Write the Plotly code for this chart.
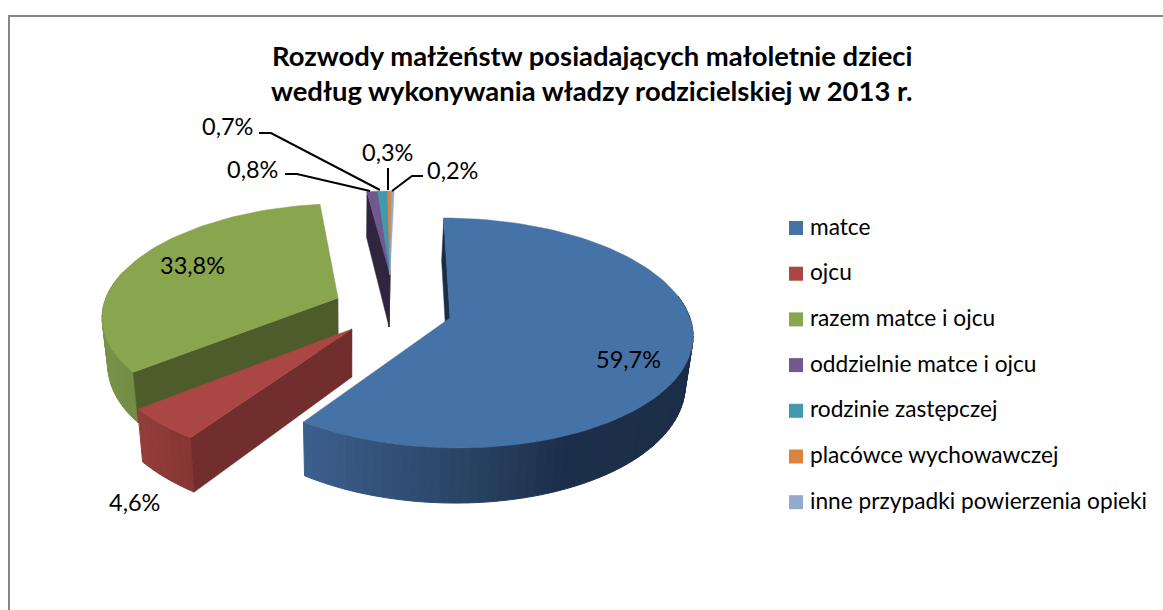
import math
import plotly.graph_objects as go

categories = ["matce", "ojcu", "razem matce i ojcu", "oddzielnie matce i ojcu",
              "rodzinie zastępczej", "placówce wychowawczej", "inne przypadki powierzenia opieki"]
values = [59.7, 4.6, 33.8, 0.8, 0.7, 0.3, 0.2]
value_labels = ["59,7%", "4,6%", "33,8%", "0,8%", "0,7%", "0,3%", "0,2%"]
colors = ["#4572A7", "#AA4643", "#89A54E", "#71588F", "#4198AF", "#DB843D", "#93A9CF"]
wall_colors = ["#1B2E48", "#722E2C", "#4E5C2B", "#30253F", "#1F5565", "#7A4519", "#53617C"]

title_lines = ["Rozwody małżeństw posiadających małoletnie dzieci",
               "według wykonywania władzy rodzicielskiej w 2013 r."]

# projection of each exploded slice: apex, radii, shear, perspective, depth
SMALL = dict(cx=390, cy=275, a=247, s=-4.6, b=96, k=0.144, t=52)
GEOM = [dict(cx=450, cy=318, a=240, s=7, b=113, k=0.13, t=48),
        dict(cx=352, cy=329, a=250, s=0, b=116.5, k=0.144, t=48),
        dict(cx=338, cy=298, a=232, s=-8.6, b=108, k=0.144, t=46),
        SMALL, SMALL, SMALL, SMALL]
VX, BOTTOM_SCALE = 350, 0.977
SIDE_STOPS = [
    [(304, "#3C5F8D"), (460, "#2A4465"), (560, "#1C2F4A"), (700, "#1B2D45")],
    [(144, "#933D3B"), (193, "#853634")],
    [(100, "#7A9449"), (140, "#738B44")],
    None, None, None, None,
]
DRAW_ORDER = [2, 1, 0]
LABEL_POS = [(628, 359), (134, 502), (192, 265), (252, 169), (227, 126), (387, 152), (452, 170)]
LEADERS = {3: [(285, 174), (297, 174), (370, 191)],
           4: [(259, 133), (271, 133), (380, 190)],
           5: [(388, 168), (388, 190)],
           6: [(392, 191), (412, 176), (423, 176)]}
LEG_X, LEG_TEXT_X, LEG_Y, LEG_STEP = 796, 810, 228, 45.7
FONT = "Lato, Carlito, sans-serif"


def project(g, theta):
    X, Y = math.sin(theta), -math.cos(theta)
    p = 1 / (1 - g["k"] * Y)
    return g["cx"] + (g["a"] * X + g["s"] * Y) * p, g["cy"] + g["b"] * Y * p, p


def drop(g, x, y, p):
    return VX + (x - VX) * BOTTOM_SCALE, y + g["t"] * p


def mix(stops, x):
    if x <= stops[0][0]:
        return stops[0][1]
    for (x0, c0), (x1, c1) in zip(stops, stops[1:]):
        if x <= x1:
            f = (x - x0) / (x1 - x0)
            rgb = [round(int(c0[i:i + 2], 16) * (1 - f) + int(c1[i:i + 2], 16) * f) for i in (1, 3, 5)]
            return "#%02X%02X%02X" % tuple(rgb)
    return stops[-1][1]


fig = go.Figure()


def poly(xs, ys, color, width=1):
    fig.add_trace(go.Scatter(x=xs + xs[:1], y=ys + ys[:1], mode="lines", fill="toself",
                             fillcolor=color, line=dict(color=color, width=width),
                             hoverinfo="skip", showlegend=False))


total = sum(values)
spans, run = [], 0.0
for v in values:
    spans.append((run / total * 2 * math.pi, (run + v) / total * 2 * math.pi))
    run += v


def arc(g, t0, t1, n):
    return [t0 + (t1 - t0) * i / n for i in range(n + 1)]


def draw_wall(i):
    g = GEOM[i]
    x0, y0, p0 = project(g, spans[i][0])
    ax, ay = g["cx"], g["cy"]
    bx0, by0 = drop(g, x0, y0, p0)
    bax, bay = drop(g, ax, ay, 1)
    poly([ax, x0, bx0, bax], [ay, y0, by0, bay], wall_colors[i], 0.5)


def draw_face(i):
    g = GEOM[i]
    pts = [project(g, t)[:2] for t in arc(g, *spans[i], max(2, int((spans[i][1] - spans[i][0]) * 30)))]
    poly([g["cx"]] + [q[0] for q in pts], [g["cy"]] + [q[1] for q in pts], colors[i], 0.5)


def draw_side(i):
    g = GEOM[i]
    t0, t1 = spans[i]
    t0, t1 = max(t0, math.pi / 2 - 0.2), min(t1, 3 * math.pi / 2 + 0.25)
    ts = arc(g, t0, t1, max(4, int((t1 - t0) * 28)))
    for a, b in zip(ts, ts[1:]):
        xa, ya, pa = project(g, a)
        xb, yb, pb = project(g, b)
        xc, yc = drop(g, xb, yb, pb)
        xd, yd = drop(g, xa, ya, pa)
        poly([xa, xb, xc, xd], [ya, yb, yc, yd], mix(SIDE_STOPS[i], (xc + xd) / 2))


for i in DRAW_ORDER:
    draw_side(i)
    draw_wall(i)
    draw_face(i)

for i in (6, 5, 4, 3):
    draw_wall(i)
for i in (3, 4, 5, 6):
    draw_face(i)

# legend
leg_y = [LEG_Y + n * LEG_STEP for n in range(len(categories))]
fig.add_trace(go.Scatter(
    x=[LEG_X] * len(categories), y=leg_y, mode="markers",
    marker=dict(symbol="square", size=14, color=colors, line=dict(width=0)),
    hoverinfo="skip", showlegend=False))
fig.add_trace(go.Scatter(
    x=[LEG_TEXT_X] * len(categories), y=[v + 1 for v in leg_y],
    mode="text", text=categories, textposition="middle right",
    textfont=dict(family=FONT, size=22.7, color="#000000"),
    hoverinfo="skip", showlegend=False))

shapes = [
    dict(type="line", x0=8, x1=1163, y0=16, y1=16, line=dict(color="#868686", width=2)),
    dict(type="line", x0=9, x1=9, y0=15, y1=610, line=dict(color="#868686", width=2)),
]
for pts in LEADERS.values():
    path = "M " + " L ".join(f"{x},{y}" for x, y in pts)
    shapes.append(dict(type="path", path=path, line=dict(color="#000000", width=2)))

annotations = []
for lab, (x, y) in zip(value_labels, LABEL_POS):
    annotations.append(dict(x=x, y=y, text=lab, showarrow=False, xanchor="center", yanchor="middle",
                            font=dict(family=FONT, size=23.5, color="#000000")))
for line, y in zip(title_lines, (55, 90)):
    annotations.append(dict(x=592, y=y, text=f"<b>{line}</b>", showarrow=False, xanchor="center",
                            yanchor="middle", font=dict(family=FONT, size=27.4, color="#000000")))

fig.update_layout(
    width=1163, height=610, margin=dict(l=0, r=0, t=0, b=0),
    paper_bgcolor="white", plot_bgcolor="white", showlegend=False,
    xaxis=dict(range=[0, 1163], visible=False, fixedrange=True),
    yaxis=dict(range=[610, 0], visible=False, fixedrange=True),
    shapes=shapes, annotations=annotations,
)
fig.write_html("out.html", config=dict(displayModeBar=False),
               post_script="document.body.style.margin='0';document.body.style.overflow='hidden';")
